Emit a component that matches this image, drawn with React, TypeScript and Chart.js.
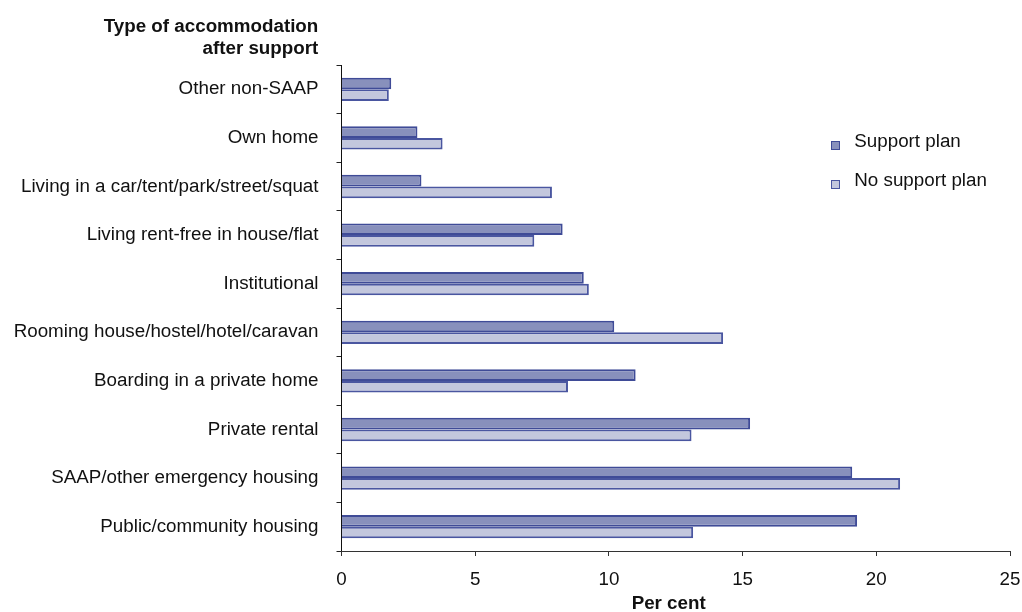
import React, { useEffect, useRef } from "react";
import { Chart, registerables } from "chart.js";

Chart.register(...registerables);

const categories = [
  "Other non-SAAP",
  "Own home",
  "Living in a car/tent/park/street/squat",
  "Living rent-free in house/flat",
  "Institutional",
  "Rooming house/hostel/hotel/caravan",
  "Boarding in a private home",
  "Private rental",
  "SAAP/other emergency housing",
  "Public/community housing",
];
const supportPlan = [1.86, 2.84, 2.99, 8.27, 9.06, 10.2, 11.0, 15.28, 19.1, 19.28];
const noSupportPlan = [1.77, 3.78, 7.87, 7.21, 9.25, 14.27, 8.47, 13.09, 20.89, 13.15];
const xTicks = [0, 5, 10, 15, 20, 25];
const seriesNames = ["Support plan", "No support plan"];

const FONT = "'Liberation Sans', Arial, Helvetica, sans-serif";
const SUPPORT_FILL = "#8890bc";
const SUPPORT_BORDER = "#3f4b97";
const NOSUP_FILL = "#c3c7dd";
const NOSUP_BORDER = "#4a56a0";

export default function App() {
  const canvasRef = useRef<HTMLCanvasElement | null>(null);

  useEffect(() => {
    if (!canvasRef.current) return;
    const chart = new Chart(canvasRef.current, {
      type: "bar",
      data: {
        labels: categories,
        datasets: [
          {
            label: seriesNames[0],
            data: supportPlan,
            backgroundColor: SUPPORT_FILL,
            borderColor: SUPPORT_BORDER,
            borderWidth: 2,
            categoryPercentage: 0.48,
            barPercentage: 1,
          },
          {
            label: seriesNames[1],
            data: noSupportPlan,
            backgroundColor: NOSUP_FILL,
            borderColor: NOSUP_BORDER,
            borderWidth: 2,
            categoryPercentage: 0.48,
            barPercentage: 1,
          },
        ],
      },
      options: {
        indexAxis: "y",
        responsive: false,
        animation: false,
        layout: { padding: { top: 65, right: 0, bottom: 0, left: 0 } },
        plugins: {
          legend: { display: false },
          tooltip: { enabled: false },
        },
        scales: {
          y: {
            grid: {
              drawOnChartArea: false,
              drawTicks: true,
              tickLength: 5,
              color: "#222",
              offset: true,
            },
            border: { color: "#111", width: 1 },
            ticks: {
              color: "#111",
              padding: 18,
              font: { family: FONT, size: 18.8 },
            },
            afterFit: (s: any) => {
              s.width = 341.5;
            },
          },
          x: {
            min: 0,
            max: 25,
            afterBuildTicks: (s: any) => {
              s.ticks = xTicks.map((v) => ({ value: v }));
            },
            grid: {
              drawOnChartArea: false,
              drawTicks: true,
              tickLength: 5,
              color: "#333",
            },
            border: { color: "#333", width: 1 },
            ticks: {
              color: "#111",
              padding: 13,
              maxRotation: 0,
              font: { family: FONT, size: 18.8 },
            },
            afterFit: (s: any) => {
              s.height = 61;
              s.paddingRight = 12;
            },
          },
        },
      },
    });
    return () => chart.destroy();
  }, []);

  const textBase: React.CSSProperties = {
    position: "absolute",
    fontFamily: FONT,
    fontSize: "18.8px",
    color: "#111",
    whiteSpace: "nowrap",
  };

  return (
    <div
      style={{
        position: "absolute",
        left: 0,
        top: 0,
        width: 1022,
        height: 612,
        background: "#fff",
        overflow: "hidden",
      }}
    >
      <canvas
        ref={canvasRef}
        width={1022}
        height={612}
        style={{ position: "absolute", left: 0, top: 0, width: 1022, height: 612 }}
      />
      <div
        style={{
          ...textBase,
          right: 1022 - 318.3,
          top: 14.95,
          fontWeight: "bold",
          lineHeight: "21.7px",
          textAlign: "right",
        }}
      >
        Type of accommodation
        <br />
        after support
      </div>
      <div
        style={{
          ...textBase,
          left: 668.7,
          top: 593.3,
          fontWeight: "bold",
          lineHeight: "20px",
          transform: "translateX(-50%)",
        }}
      >
        Per cent
      </div>
      {seriesNames.map((name, i) => (
        <React.Fragment key={name}>
          <div
            style={{
              position: "absolute",
              left: 830.7,
              top: i === 0 ? 140.7 : 180,
              width: 9,
              height: 9,
              boxSizing: "border-box",
              background: i === 0 ? SUPPORT_FILL : NOSUP_FILL,
              border: `1.5px solid ${i === 0 ? SUPPORT_BORDER : NOSUP_BORDER}`,
            }}
          />
          <div
            style={{
              ...textBase,
              left: 854.3,
              top: i === 0 ? 130.8 : 170.2,
              lineHeight: "20px",
            }}
          >
            {name}
          </div>
        </React.Fragment>
      ))}
    </div>
  );
}
